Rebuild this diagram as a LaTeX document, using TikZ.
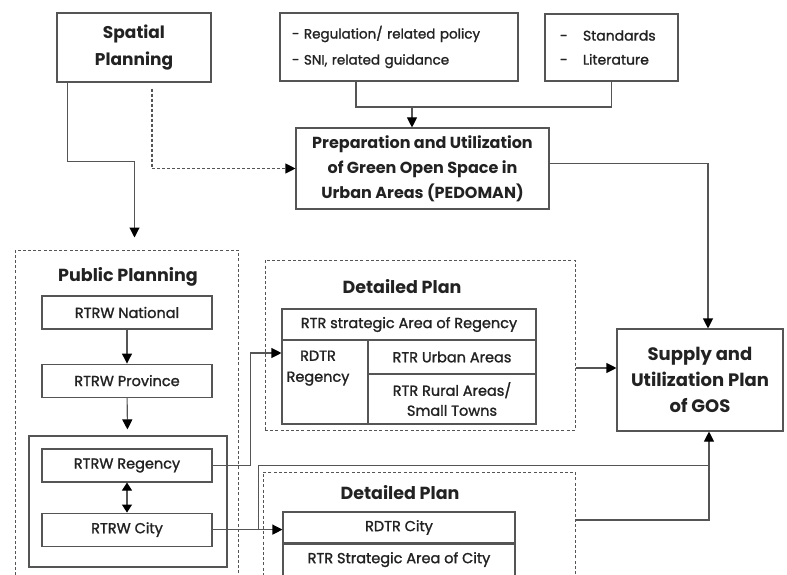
\documentclass[tikz,border=0pt]{standalone}
\usepackage{fontspec}
\setmainfont{Poppins}
\newfontfamily\medfont{Poppins}[FakeBold=1.4]
\usetikzlibrary{positioning,arrows.meta}

\definecolor{edgegray}{HTML}{555555}
\definecolor{inkgray}{HTML}{222222}

\tikzset{
  box/.style={draw=edgegray, line width=1.1pt, text=inkgray, align=center, inner sep=2pt},
  headbox/.style={box, font=\fontsize{17}{27}\selectfont\bfseries},
  cell/.style={box, font=\medfont\fontsize{14.5}{20}\selectfont},
  celltext/.style={text=inkgray, align=center, font=\medfont\fontsize{14.5}{21}\selectfont},
  group/.style={draw=edgegray, line width=1pt, dash pattern=on 3pt off 2.2pt},
  grouptitle/.style={text=inkgray, font=\fontsize{17.5}{20}\selectfont\bfseries},
  link/.style={draw=edgegray, line width=1.1pt},
  arr/.style={link, -{Triangle[length=10pt,width=10pt,color=black]}},
  dasharr/.style={arr, dash pattern=on 3pt off 2pt},
  dblarr/.style={link, {Triangle[length=8pt,width=10pt,color=black]}-{Triangle[length=8pt,width=10pt,color=black]}},
}

\begin{document}
\begin{tikzpicture}[x=1pt, y=-1pt]
    \clip (0,0) rectangle (787,575);

    % sources
    \node[headbox, minimum width=154pt, minimum height=69pt] (spatial) at (134,47.5)
    {Spatial\\Planning};
    \node[cell, font=\medfont\fontsize{13.5}{26}\selectfont, align=left, text width=214pt, inner xsep=12pt, minimum height=68pt] (regul) at (399,47)
    {- Regulation/ related policy\\- SNI, related guidance};
    \node[cell, font=\medfont\fontsize{14}{24}\selectfont, align=left, text width=103pt, inner xsep=15pt, minimum height=67pt] (stand) at (611.5,47.5)
    {\makebox[23pt][l]{-}Standards\\\makebox[23pt][l]{-}Literature};
    \node[headbox, font=\fontsize{16}{25}\selectfont\bfseries, minimum width=253pt, minimum height=81pt] (pedoman) at (422.5,168.5)
    {Preparation and Utilization\\of Green Open Space in\\Urban Areas (PEDOMAN)};
    \node[headbox, font=\fontsize{18}{26}\selectfont\bfseries, minimum width=166pt, minimum height=102pt] (supply) at (700,380)
    {Supply and\\Utilization Plan\\of GOS};

    % public planning
    \node[group, minimum width=223pt, minimum height=350pt] (pubgrp) at (126.5,425) {};
    \node[grouptitle] (pubtitle) at (128,277) {Public Planning};
    \node[cell, minimum width=170pt, minimum height=33pt] (nat) at (127,312.5) {RTRW National};
    \node[cell, minimum width=170pt, minimum height=33pt, below=34pt of nat] (prov) {RTRW Province};
    \node[box, minimum width=198pt, minimum height=131pt] (tier) at (128,501.5) {};
    \node[cell, minimum width=170pt, minimum height=33pt] (reg) at (127,465.5) {RTRW Regency};
    \node[cell, minimum width=170pt, minimum height=33pt, below=30pt of reg] (city) {RTRW City};

    % detailed plan, regency
    \node[group, minimum width=310pt, minimum height=170pt] (detA) at (420,345) {};
    \node[grouptitle] (detAtitle) at (402,287) {Detailed Plan};
    \node[cell, minimum width=254pt, minimum height=31pt] (strat) at (409,324.5) {RTR strategic Area of Regency};
    \node[cell, minimum width=86pt, minimum height=84pt] (rdtrreg) at (325,382) {};
    \node[celltext, anchor=north, inner sep=0pt] (rdtrregtext) at ([xshift=-7pt,yshift=-11pt]rdtrreg.north) {RDTR\\Regency};
    \node[cell, minimum width=168pt, minimum height=34pt] (urban) at (452,357) {RTR Urban Areas};
    \node[cell, minimum width=168pt, minimum height=50pt] (rural) at (452,399) {RTR Rural Areas/\\Small Towns};

    % detailed plan, city
    \node[group, minimum width=312pt, minimum height=128pt] (detB) at (419,536) {};
    \node[grouptitle] (detBtitle) at (400,493) {Detailed Plan};
    \node[cell, minimum width=232pt, minimum height=31pt] (rdtrcity) at (399,527.5) {RDTR City};
    \node[cell, minimum width=232pt, minimum height=31pt, below=0pt of rdtrcity] (strcity) {RTR Strategic Area of City};

    % connectors
    \coordinate (merge) at (412,107);
    \draw[link] ([xshift=-43pt]regul.south) |- (merge) -| (stand.south);
    \draw[arr] (merge) -- (merge |- pedoman.north);
    \draw[arr, shorten >=12pt] ([xshift=11pt]spatial.south west) -- ++(0,79) -| ([xshift=8pt]pubgrp.north);
    \draw[dasharr] ([xshift=18pt,yshift=-6pt]spatial.south) |- (pedoman.west);
    \draw[arr] ([yshift=5pt]pedoman.east) -| ([xshift=8pt]supply.north);

    \draw[arr] (nat) -- (prov);
    \draw[arr, shorten >=6pt] (prov) -- (tier);
    \draw[dblarr] (reg) -- (city);

    \draw[arr] (reg.east) -- ++(38,0) |- ([yshift=29pt]rdtrreg.west);
    \draw[arr] (city.east) -- (city.east -| rdtrcity.west);
    \draw[arr] ([xshift=46pt]city.east) -- ++(0,-64) -| ([xshift=9pt]supply.south);
    \draw[link] ([yshift=16pt]detB.east) -| ([xshift=9pt,yshift=-33pt]supply.south);
    \draw[arr] ([yshift=-23pt]detA.east) -- ([yshift=12pt]supply.west);
\end{tikzpicture}
\end{document}
